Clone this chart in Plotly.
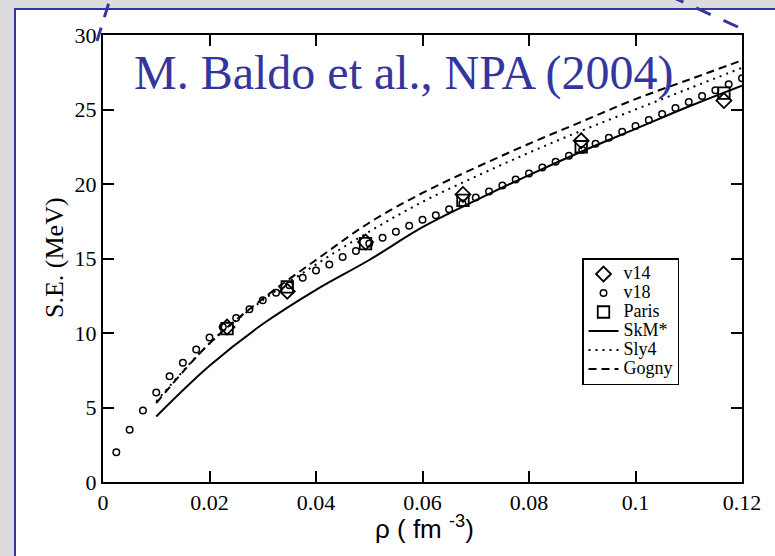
import plotly.graph_objects as go

# Symmetry energy of nuclear matter vs density
rho_v18 = [0.0025, 0.005, 0.0075, 0.01, 0.0125, 0.015, 0.0175, 0.02, 0.0225, 0.025,
           0.0275, 0.03, 0.0325, 0.035, 0.0375, 0.04, 0.0425, 0.045, 0.0475, 0.05,
           0.0525, 0.055, 0.0575, 0.06, 0.0625, 0.065, 0.0675, 0.07, 0.0725, 0.075,
           0.0775, 0.08, 0.0825, 0.085, 0.0875, 0.09, 0.0925, 0.095, 0.0975, 0.1,
           0.1025, 0.105, 0.1075, 0.11, 0.1125, 0.115, 0.1175, 0.12]
se_v18 = [2.0, 3.5, 4.8, 6.0, 7.1, 8.0, 8.9, 9.7, 10.4, 11.0,
          11.6, 12.2, 12.7, 13.2, 13.7, 14.2, 14.6, 15.1, 15.5, 16.0,
          16.4, 16.8, 17.2, 17.6, 17.9, 18.3, 18.7, 19.1, 19.5, 19.9,
          20.3, 20.7, 21.1, 21.5, 21.9, 22.3, 22.7, 23.1, 23.5, 23.9,
          24.3, 24.7, 25.1, 25.5, 25.9, 26.3, 26.7, 27.1]

rho_bhf = [0.0233, 0.0346, 0.0493, 0.0676, 0.0898, 0.1166]
se_v14 = [10.4, 12.8, 16.1, 19.3, 22.9, 25.6]
se_paris = [10.3, 13.1, 16.0, 18.9, 22.5, 26.1]

rho_skyrme = [0.01, 0.02, 0.03, 0.04, 0.05, 0.06, 0.07, 0.08, 0.09, 0.10, 0.11, 0.12]
se_skm = [4.4, 7.8, 10.6, 12.9, 14.9, 17.1, 18.9, 20.6, 22.2, 23.7, 25.2, 26.6]
se_sly4 = [5.4, 9.3, 12.2, 14.6, 16.8, 18.8, 20.5, 22.1, 23.6, 25.0, 26.4, 27.8]
se_gogny = [5.3, 9.3, 12.3, 14.9, 17.4, 19.4, 21.1, 22.7, 24.2, 25.7, 27.0, 28.3]

series_names = ["v14", "v18", "Paris", "SkM*", "Sly4", "Gogny"]

x_ticks = [0, 0.02, 0.04, 0.06, 0.08, 0.1, 0.12]
x_ticktext = ["0", "0.02", "0.04", "0.06", "0.08", "0.1", "0.12"]
y_ticks = [0, 5, 10, 15, 20, 25, 30]

W, H = 775, 556
ML, MR, MT, MB = 103, 33, 35, 74
PW, PH = W - ML - MR, H - MT - MB


def px(xp):
    return (xp - ML) / PW


def py(yp):
    return (H - MB - yp) / PH


def legend_label(name):
    # compact legend rows with larger glyphs
    return '<span style="font-size:18px">' + name + "</span>"


SERIF = "Liberation Serif"
SANS = "Liberation Sans"
BLUE = "#3535a0"

fig = go.Figure()

fig.add_trace(go.Scatter(
    x=rho_bhf, y=se_v14, mode="markers", name=legend_label(series_names[0]),
    marker=dict(symbol="diamond-open", size=11.5, color="black", line=dict(width=1.8, color="black"))))
fig.add_trace(go.Scatter(
    x=rho_v18, y=se_v18, mode="markers", name=legend_label(series_names[1]),
    marker=dict(symbol="circle-open", size=6.5, color="black", line=dict(width=1.5, color="black"))))
fig.add_trace(go.Scatter(
    x=rho_bhf, y=se_paris, mode="markers", name=legend_label(series_names[2]),
    marker=dict(symbol="square-open", size=11.5, color="black", line=dict(width=1.8, color="black"))))
fig.add_trace(go.Scatter(
    x=rho_skyrme, y=se_skm, mode="lines", name=legend_label(series_names[3]), line_shape="spline",
    line=dict(color="black", width=2)))
fig.add_trace(go.Scatter(
    x=rho_skyrme, y=se_sly4, mode="lines", name=legend_label(series_names[4]), line_shape="spline",
    line=dict(color="black", width=2, dash="2px,5px")))
fig.add_trace(go.Scatter(
    x=rho_skyrme, y=se_gogny, mode="lines", name=legend_label(series_names[5]), line_shape="spline",
    line=dict(color="black", width=2, dash="8px,5px")))

axis_common = dict(
    showline=True, linecolor="black", linewidth=2, mirror="ticks",
    ticks="inside", ticklen=11, tickwidth=1.8, tickcolor="black",
    showgrid=False, zeroline=False,
    tickfont=dict(family=SERIF, size=22, color="black"),
)

fig.update_layout(
    width=W, height=H,
    margin=dict(l=ML, r=MR, t=MT, b=MB),
    paper_bgcolor="#dcdcdc",
    plot_bgcolor="white",
    xaxis=dict(range=[0, 0.12], tickvals=x_ticks, ticktext=x_ticktext, **axis_common),
    yaxis=dict(range=[0, 30], tickvals=y_ticks, **axis_common),
    legend=dict(
        x=px(582), y=py(258), xanchor="left", yanchor="top",
        bgcolor="white", bordercolor="black", borderwidth=1.5,
        font=dict(family=SERIF, size=12, color="black"),
        tracegroupgap=0, entrywidth=58, entrywidthmode="pixels",
    ),
    showlegend=True,
)

# slide panel behind the chart
fig.add_shape(type="rect", xref="paper", yref="paper",
              x0=px(15), x1=px(790), y0=py(9), y1=py(570),
              fillcolor="white", line=dict(color=BLUE, width=2), layer="below")

# dashed callout strokes at the top
fig.add_shape(type="line", xref="paper", yref="paper",
              x0=px(97), y0=py(41), x1=px(111), y1=py(-4),
              line=dict(color=BLUE, width=3, dash="14px,11px"))
fig.add_shape(type="line", xref="paper", yref="paper",
              x0=px(738), y0=py(27), x1=px(672), y1=py(-3),
              line=dict(color=BLUE, width=3, dash="16px,14px"))

fig.add_annotation(
    text="M. Baldo et al., NPA (2004)", xref="paper", yref="paper",
    x=px(132), y=py(102), xanchor="left", yanchor="bottom", showarrow=False,
    font=dict(family=SERIF, size=48, color=BLUE))

fig.add_annotation(
    text="S.E. (MeV)", xref="paper", yref="paper", textangle=-90,
    x=px(54), y=py(258), xanchor="center", yanchor="middle", showarrow=False,
    font=dict(family=SERIF, size=26, color="black"))

fig.add_annotation(
    text="ρ ( fm <sup>-3</sup>)", xref="paper", yref="paper",
    x=px(424), y=py(546), xanchor="center", yanchor="bottom", showarrow=False,
    font=dict(family=SANS, size=26, color="black"))

fig.write_html("out.html")
